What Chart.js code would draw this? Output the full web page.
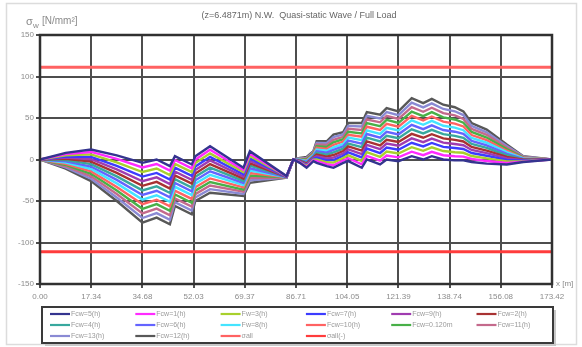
<!DOCTYPE html>
<html>
<head>
<meta charset="utf-8">
<script src="https://cdn.jsdelivr.net/npm/chart.js@4/dist/chart.umd.min.js"></script>
<style>
  html, body { margin: 0; padding: 0; background: #fff; }
  #wrap { width: 582px; height: 347px; position: relative; }
</style>
</head>
<body>
<div id="wrap"><canvas id="c" width="582" height="347"></canvas></div>
<script>
// Longitudinal stations x [m]
const stations = [0, 8.7, 17.3, 26, 34.7, 39.5, 44, 45.7, 51.4, 52.6, 57.6, 68.9, 71.1, 83.5, 85.8, 88, 90.3, 92.6, 93.7, 97.1, 99.4, 102.7, 104.4, 109, 110.7, 115.2, 117.4, 121.4, 125.9, 129.8, 132.7, 136.6, 140.5, 143.4, 146.2, 151.3, 158.1, 163.7, 173.42];

// X-axis tick positions and labels
const xTickValues = [0, 17.342, 34.684, 52.026, 69.368, 86.71, 104.052, 121.394, 138.736, 156.078, 173.42];
const xTickLabels = ['0.00', '17.34', '34.68', '52.03', '69.37', '86.71', '104.05', '121.39', '138.74', '156.08', '173.42'];

// Stress per load case [N/mm2]
const s0  = [0, 8, 12, 5, -4, 0, -8, 4, -6, 4, 16, -10, 10, -20, 0, -4, -10, -2, -4, -8, -10, -4, -2, -10, 0, -6, 0, -2, 4, 0, 4, 0, -1, -1, -3, -5, -6, -3, 0];
const s1  = [0, 6.5, 9.1, 0.8, -9.5, -5.4, -13.4, -0.6, -10.6, -0.2, 11.7, -12.6, 7.1, -20.2, 0, -3.5, -9, -1.1, -2, -5.7, -6.9, -1.2, 1.5, -5.8, 4.4, -1.4, 4.8, 2.6, 9.4, 5.2, 9.3, 5.1, 3.9, 3.5, 0.6, -1.8, -4.2, -2.5, 0];
const s2  = [0, 5.1, 6.2, -3.5, -15.1, -10.8, -18.8, -5.2, -15.2, -4.3, 7.4, -15.2, 4.2, -20.3, 0, -3.1, -8, -0.2, 0, -3.4, -3.8, 1.7, 5.1, -1.7, 8.8, 3.2, 9.5, 7.2, 14.8, 10.5, 14.6, 10.2, 8.8, 8.1, 4.2, 1.3, -2.3, -1.9, 0];
const s3  = [0, 3.6, 3.2, -7.7, -20.6, -16.2, -24.2, -9.8, -19.8, -8.5, 3.1, -17.8, 1.2, -20.5, 0, -2.6, -7, 0.8, 2, -1.1, -0.8, 4.5, 8.6, 2.5, 13.2, 7.8, 14.3, 11.8, 20.2, 15.7, 19.9, 15.2, 13.8, 12.6, 7.8, 4.5, -0.5, -1.4, 0];
const s4  = [0, 2.2, 0.3, -11.9, -26.2, -21.5, -29.5, -14.5, -24.5, -12.6, -1.2, -20.5, -1.7, -20.6, 0, -2.2, -6, 1.7, 4, 1.2, 2.3, 7.4, 12.2, 6.6, 17.5, 12.5, 19.1, 16.5, 25.5, 20.9, 25.2, 20.3, 18.7, 17.2, 11.5, 7.6, 1.4, -0.8, 0];
const s5  = [0, 0.7, -2.6, -16.2, -31.7, -26.9, -34.9, -19.1, -29.1, -16.8, -5.5, -23.1, -4.6, -20.8, 0, -1.7, -5, 2.6, 6, 3.5, 5.4, 10.2, 15.7, 10.8, 21.9, 17.1, 23.8, 21.1, 30.9, 26.2, 30.5, 25.4, 23.6, 21.7, 15.1, 10.8, 3.2, -0.3, 0];
const s6  = [0, -0.8, -5.5, -20.4, -37.2, -32.3, -40.3, -23.7, -33.7, -20.9, -9.8, -25.7, -7.5, -20.9, 0, -1.2, -4, 3.5, 8, 5.8, 8.5, 13.1, 19.2, 14.9, 26.3, 21.7, 28.6, 25.7, 36.3, 31.4, 35.8, 30.5, 28.5, 26.2, 18.7, 13.9, 5.1, 0.2, 0];
const s7  = [0, -2.2, -8.5, -24.6, -42.8, -37.7, -45.7, -28.3, -38.3, -25.1, -14.2, -28.3, -10.5, -21.1, 0, -0.8, -3, 4.5, 10, 8.2, 11.5, 15.9, 22.8, 19.1, 30.7, 26.3, 33.4, 30.3, 41.7, 36.6, 41.2, 35.5, 33.5, 30.8, 22.3, 17.1, 6.9, 0.8, 0];
const s8  = [0, -3.7, -11.4, -28.8, -48.3, -43.1, -51.1, -32.9, -42.9, -29.2, -18.5, -30.9, -13.4, -21.2, 0, -0.3, -2, 5.4, 12, 10.5, 14.6, 18.8, 26.3, 23.2, 35.1, 30.9, 38.2, 34.9, 47.1, 41.8, 46.5, 40.6, 38.4, 35.3, 25.9, 20.2, 8.8, 1.3, 0];
const s9  = [0, -5.2, -14.3, -33.1, -53.8, -48.5, -56.5, -37.5, -47.5, -33.4, -22.8, -33.5, -16.3, -21.4, 0, 0.2, -1, 6.3, 14, 12.8, 17.7, 21.6, 29.8, 27.4, 39.5, 35.5, 42.9, 39.5, 52.5, 47.1, 51.8, 45.7, 43.3, 39.8, 29.5, 23.4, 10.6, 1.8, 0];
const s10 = [0, -6.6, -17.2, -37.3, -59.4, -53.8, -61.8, -42.2, -52.2, -37.5, -27.1, -36.2, -19.2, -21.5, 0, 0.6, 0, 7.2, 16, 15.1, 20.8, 24.5, 33.4, 31.5, 43.8, 40.2, 47.7, 44.2, 57.8, 52.3, 57.1, 50.8, 48.2, 44.4, 33.2, 26.5, 12.5, 2.3, 0];
const s11 = [0, -8.1, -20.2, -41.5, -64.9, -59.2, -67.2, -46.8, -56.8, -41.7, -31.4, -38.8, -22.2, -21.7, 0, 1.1, 1, 8.2, 18, 17.4, 23.8, 27.3, 36.9, 35.7, 48.2, 44.8, 52.5, 48.8, 63.2, 57.5, 62.4, 55.8, 53.2, 48.9, 36.8, 29.7, 14.3, 2.9, 0];
const s12 = [0, -9.5, -23.1, -45.8, -70.5, -64.6, -72.6, -51.4, -61.4, -45.8, -35.7, -41.4, -25.1, -21.8, 0, 1.5, 2, 9.1, 20, 19.7, 26.9, 30.2, 40.5, 39.8, 52.6, 49.4, 57.2, 53.4, 68.6, 62.8, 67.7, 60.9, 58.1, 53.5, 40.4, 32.8, 16.2, 3.5, 0];
const s13 = [0, -11, -26, -50, -76, -70, -78, -56, -66, -50, -40, -44, -28, -22, 0, 2, 3, 10, 22, 22, 30, 33, 44, 44, 57, 54, 62, 58, 74, 68, 73, 66, 63, 58, 44, 36, 18, 4, 0];

const seriesValues = [s0, s1, s2, s3, s4, s5, s6, s7, s8, s9, s10, s11, s12, s13];
const seriesNames = ['Fcw=5(h)', 'Fcw=1(h)', 'Fw=3(h)', 'Fcw=7(h)', 'Fcw=9(h)', 'Fcw=2(h)',
                     'Fcw=4(h)', 'Fcw=6(h)', 'Fw=8(h)', 'Fcw=10(h)', 'Fcw=0.120m', 'Fcw=11(h)',
                     'Fcw=13(h)', 'Fcw=12(h)'];
const seriesColors = ['#34348f', '#ff2bff', '#a8d02c', '#3c3cff', '#a03cb0', '#a83232',
                      '#38a89e', '#6464ff', '#44e4ff', '#ff6262', '#48b048', '#c46a8c',
                      '#8a8ad4', '#585858'];

// Allowable stress limits [N/mm2]
const limitValues = [111, -111];
const limitNames = ['σall', 'σall(-)'];
const limitColors = ['#ff6262', '#ff3c3c'];

const datasets = seriesValues.map((vals, i) => ({
  label: seriesNames[i],
  data: stations.map((x, j) => ({ x: x, y: vals[j] })),
  borderColor: seriesColors[i],
  backgroundColor: seriesColors[i],
  borderWidth: 2.4,
  pointRadius: 0,
  tension: 0,
  fill: false
}));
limitValues.forEach((v, i) => {
  datasets.push({
    label: limitNames[i],
    data: [{ x: 0, y: v }, { x: 173.42, y: v }],
    borderColor: limitColors[i],
    backgroundColor: limitColors[i],
    borderWidth: 3,
    pointRadius: 0,
    fill: false
  });
});

// Frame, titles and boxed legend in a 6-column grid
const decorations = {
  id: 'decorations',
  afterDraw(chart) {
    const ctx = chart.ctx;
    const a = chart.chartArea;
    ctx.save();
    // outer light frame
    ctx.strokeStyle = '#dcdcdc';
    ctx.lineWidth = 1.5;
    ctx.strokeRect(6.5, 3.5, 570, 341);
    // plot frame
    ctx.strokeStyle = '#303030';
    ctx.lineWidth = 2.5;
    ctx.strokeRect(a.left, a.top, a.right - a.left, a.bottom - a.top);

    // title
    ctx.fillStyle = '#666';
    ctx.font = '9px Arial, "Liberation Sans", sans-serif';
    ctx.textAlign = 'center';
    ctx.textBaseline = 'middle';
    ctx.fillText('(z=6.4871m) N.W.  Quasi-static Wave / Full Load', 299, 16);

    // y axis title
    ctx.fillStyle = '#8a8a8a';
    ctx.textAlign = 'left';
    ctx.font = '11px Arial, "Liberation Sans", sans-serif';
    ctx.fillText('σ', 26, 22);
    ctx.font = '8px Arial, "Liberation Sans", sans-serif';
    ctx.fillText('w', 33, 26);
    ctx.font = '10px Arial, "Liberation Sans", sans-serif';
    ctx.fillText('[N/mm²]', 42, 21);

    // x axis title
    ctx.font = '8px Arial, "Liberation Sans", sans-serif';
    ctx.fillText('x [m]', 556, 284);

    // legend box with shadow
    const lx = 42, ly = 307, lw = 511, lh = 36;
    ctx.fillStyle = '#c8c8c8';
    ctx.fillRect(lx + 3, ly + 3, lw, lh);
    ctx.fillStyle = '#fff';
    ctx.fillRect(lx, ly, lw, lh);
    ctx.strokeStyle = '#3a3a3a';
    ctx.lineWidth = 2;
    ctx.strokeRect(lx, ly, lw, lh);

    ctx.font = '7px Arial, "Liberation Sans", sans-serif';
    chart.data.datasets.forEach((ds, i) => {
      const col = i % 6, row = Math.floor(i / 6);
      const x0 = 50 + col * 85.3;
      const y0 = 314 + row * 11;
      ctx.strokeStyle = ds.borderColor;
      ctx.lineWidth = 2.2;
      ctx.beginPath();
      ctx.moveTo(x0, y0);
      ctx.lineTo(x0 + 20, y0);
      ctx.stroke();
      ctx.fillStyle = '#9a9a9a';
      ctx.fillText(ds.label, x0 + 21, y0 + 0.5);
    });
    ctx.restore();
  }
};

new Chart(document.getElementById('c'), {
  type: 'line',
  data: { datasets: datasets },
  options: {
    responsive: false,
    animation: false,
    devicePixelRatio: 1,
    layout: { padding: { left: 0, top: 35, right: 30, bottom: 0 } },
    plugins: { legend: { display: false }, title: { display: false }, tooltip: { enabled: false } },
    scales: {
      x: {
        type: 'linear',
        min: 0,
        max: 173.42,
        afterBuildTicks: s => { s.ticks = xTickValues.map(v => ({ value: v })); },
        afterFit: s => { s.height = 63; },
        ticks: {
          callback: (v, i) => xTickLabels[i],
          autoSkip: false,
          maxRotation: 0,
          color: '#8c8c8c',
          font: { size: 8, family: 'Arial, "Liberation Sans", sans-serif' },
          padding: 4
        },
        grid: { color: '#4e4e4e', lineWidth: 2, drawTicks: true, tickLength: 4 },
        border: { display: false }
      },
      y: {
        min: -150,
        max: 150,
        afterFit: s => { s.width = 40; },
        ticks: {
          stepSize: 50,
          color: '#8c8c8c',
          font: { size: 8, family: 'Arial, "Liberation Sans", sans-serif' },
          padding: 2
        },
        grid: { color: '#4e4e4e', lineWidth: 2, drawTicks: true, tickLength: 4 },
        border: { display: false }
      }
    }
  },
  plugins: [decorations]
});
</script>
</body>
</html>
